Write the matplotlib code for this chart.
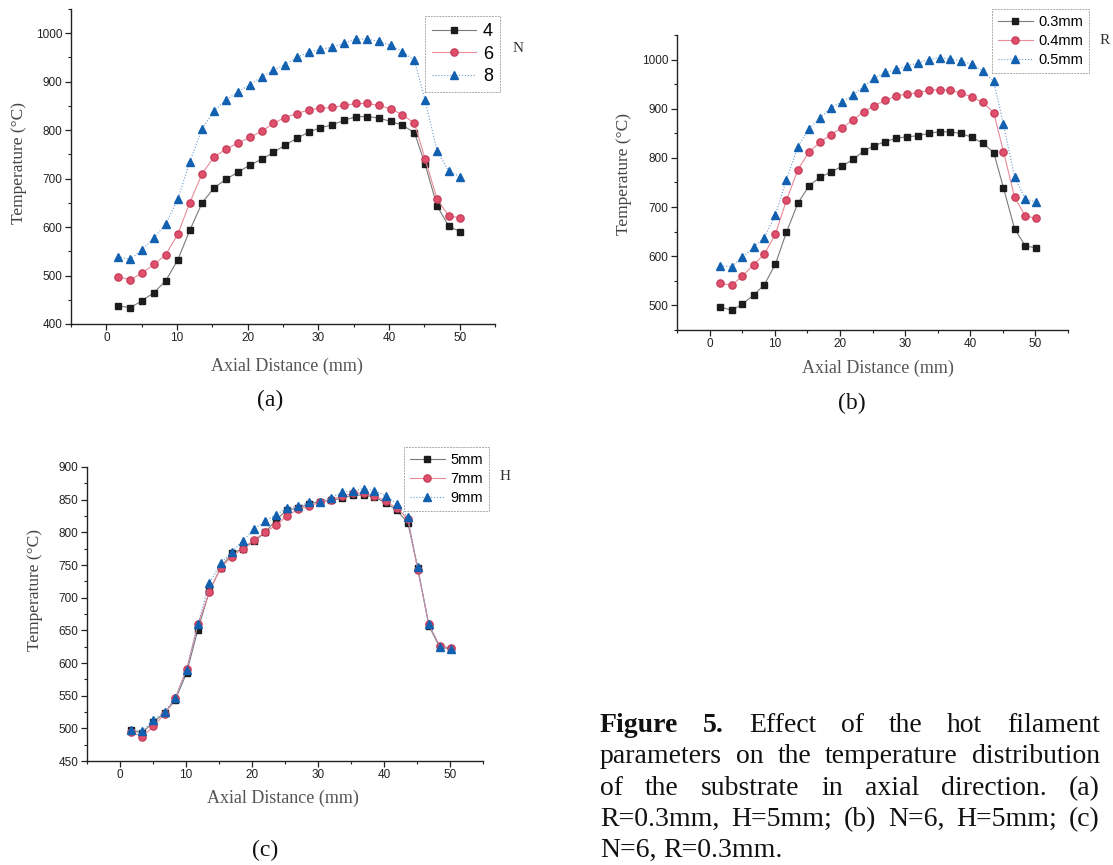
import numpy as np
import matplotlib
matplotlib.use('Agg')
import matplotlib.pyplot as plt
from matplotlib.ticker import MultipleLocator

# axial positions (mm), shared by all panels
x_pos = [1.65, 3.4, 5.05, 6.75, 8.4, 10.1, 11.8, 13.55, 15.25, 16.95,
         18.6, 20.3, 22.0, 23.65, 25.25, 26.95, 28.65, 30.3, 31.95, 33.6,
         35.3, 36.9, 38.55, 40.25, 41.9, 43.6, 45.1, 46.8, 48.45, 50.1]

# (a) filament number N
labels_a = ['4', '6', '8']
temp_n4 = [437, 434, 448, 465, 489, 532, 593, 650, 681, 699,
           713, 728, 740, 754, 769, 783, 796, 805, 811, 820,
           828, 828, 825, 818, 810, 795, 730, 644, 602, 590]
temp_n6 = [498, 491, 505, 523, 543, 585, 650, 710, 745, 761,
           773, 785, 798, 814, 826, 834, 842, 845, 847, 851,
           855, 855, 851, 844, 832, 814, 741, 658, 623, 619]
temp_n8 = [538, 534, 553, 578, 606, 657, 734, 803, 840, 862,
           879, 894, 910, 924, 935, 950, 961, 967, 971, 979,
           988, 988, 983, 975, 962, 944, 862, 758, 715, 704]

# (b) filament radius R
labels_b = ['0.3mm', '0.4mm', '0.5mm']
temp_r03 = [497, 490, 503, 521, 542, 584, 649, 708, 743, 761,
            771, 783, 797, 814, 825, 833, 840, 843, 845, 850,
            853, 853, 850, 842, 830, 811, 739, 656, 621, 617]
temp_r04 = [545, 541, 560, 583, 604, 645, 714, 776, 812, 832,
            847, 861, 877, 894, 906, 917, 926, 930, 932, 938,
            939, 938, 932, 924, 913, 892, 813, 720, 682, 677]
temp_r05 = [581, 579, 598, 618, 638, 684, 756, 823, 859, 881,
            902, 914, 928, 945, 962, 974, 980, 987, 993, 1000,
            1004, 1001, 998, 990, 977, 956, 868, 761, 717, 710]

# (c) filament-substrate distance H
labels_c = ['5mm', '7mm', '9mm']
temp_h5 = [497, 493, 510, 523, 544, 585, 651, 710, 746, 768,
           775, 786, 800, 819, 834, 837, 844, 847, 849, 852,
           857, 857, 854, 845, 834, 815, 746, 657, 624, 622]
temp_h7 = [495, 487, 503, 522, 547, 591, 659, 709, 746, 763,
           775, 789, 800, 811, 825, 835, 840, 846, 850, 855,
           860, 860, 856, 848, 837, 821, 743, 659, 626, 623]
temp_h9 = [498, 496, 513, 525, 547, 589, 659, 722, 753, 770,
           787, 805, 817, 827, 837, 840, 846, 847, 853, 861,
           864, 867, 864, 856, 844, 823, 747, 659, 625, 622]

caption = ("Figure 5. Effect of the hot filament parameters on the temperature "
           "distribution of the substrate in axial direction. (a) R=0.3mm, H=5mm; "
           "(b) N=6, H=5mm; (c) N=6, R=0.3mm.")

W, H = 1113, 865
fig = plt.figure(figsize=(W / 100, H / 100), dpi=100)
plt.rcParams['font.family'] = 'Liberation Sans'

styles = [dict(marker='s', color='#7a7a7a', mfc='#1c1c1c', mec='#1c1c1c', ms=4.6, ls='-'),
          dict(marker='o', color='#e88a9a', mfc='#e0506c', mec='#c8405c', ms=5.2, ls='-'),
          dict(marker='^', color='#6a9ad0', mfc='#1260b0', mec='#1260b0', ms=6.2, ls=':')]


def px(x, y):
    return x / W, 1 - y / H


def panel(rect, series, labels, ylim, ymaj, ymin, leg_px, leg_fs, leg_sp,
          par, par_px, ylab_px, xlab_px, tag, tag_px):
    ax = fig.add_axes(rect)
    for s, lab, st in zip(series, labels, styles):
        ax.plot(x_pos, s, lw=0.8, label=lab, **st)
    ax.set_xlim(-5, 55)
    ax.set_ylim(*ylim)
    ax.xaxis.set_major_locator(MultipleLocator(10))
    ax.xaxis.set_minor_locator(MultipleLocator(5))
    ax.yaxis.set_major_locator(MultipleLocator(ymaj))
    ax.yaxis.set_minor_locator(MultipleLocator(ymin))
    ax.spines['top'].set_visible(False)
    ax.spines['right'].set_visible(False)
    for sp in ('left', 'bottom'):
        ax.spines[sp].set_linewidth(1.0)
        ax.spines[sp].set_color('#222222')
    ax.tick_params(which='major', direction='out', length=4, width=0.9,
                   labelsize=8.5, colors='#222222', pad=2)
    ax.tick_params(which='minor', direction='out', length=2.5, width=0.8,
                   colors='#222222')
    leg = ax.legend(loc='upper left', bbox_to_anchor=px(*leg_px),
                    bbox_transform=fig.transFigure, fontsize=leg_fs,
                    handlelength=2.4, labelspacing=leg_sp, borderpad=0.4,
                    borderaxespad=0, handletextpad=0.4, fancybox=False,
                    framealpha=1)
    leg.get_frame().set_edgecolor('#aaaaaa')
    leg.get_frame().set_linewidth(0.7)
    leg.get_frame().set_linestyle((0, (2, 1)))
    fig.text(*px(*par_px), par, family='Liberation Serif', fontsize=11,
             ha='center', va='center', color='#333333')
    fig.text(*px(*ylab_px), 'Temperature (°C)', family='Liberation Serif',
             fontsize=12.5, rotation=90, ha='center', va='center', color='#444444')
    fig.text(*px(*xlab_px), 'Axial Distance (mm)', family='Liberation Serif',
             fontsize=13, ha='center', va='center', color='#555555')
    fig.text(*px(*tag_px), tag, family='Liberation Serif', fontsize=17,
             ha='center', va='center', color='#111111')
    return ax


panel([71 / W, 1 - 324 / H, 424 / W, 315 / H], [temp_n4, temp_n6, temp_n8],
      labels_a, (400, 1050), 100, 50, (425, 16), 13, 0.3, 'N', (518, 48),
      (19, 163), (287, 366), '(a)', (270, 400))
panel([677 / W, 1 - 330 / H, 391 / W, 295 / H], [temp_r03, temp_r04, temp_r05],
      labels_b, (450, 1050), 100, 50, (992, 9), 10.5, 0.35, 'R', (1105, 41),
      (624, 174), (878, 368), '(b)', (852, 403))
panel([87 / W, 1 - 761 / H, 396 / W, 294 / H], [temp_h5, temp_h7, temp_h9],
      labels_c, (450, 900), 50, 25, (404, 447), 10.5, 0.35, 'H', (505, 477),
      (35, 590), (283, 798), '(c)', (265, 850))

# justified caption block
fig.canvas.draw()
r = fig.canvas.get_renderer()
words = caption.split(' ')
x0, x1 = 600, 1100
base_y = [732, 763, 795, 826, 857]
fs = 20


def make(wd, bold):
    return fig.text(0, 0, wd, family='Liberation Serif', fontsize=fs,
                    fontweight='bold' if bold else 'normal', va='baseline',
                    color='#111111')


lines, cur, curw = [], [], 0
space = make(' x', False).get_window_extent(r).width - make('x', False).get_window_extent(r).width
for t in list(fig.texts[-2:]):
    t.remove()
for i, wd in enumerate(words):
    t = make(wd, i < 2)
    w = t.get_window_extent(r).width
    need = curw + (space if cur else 0) + w
    if cur and need > (x1 - x0):
        lines.append(cur)
        cur, curw = [], 0
        need = w
    cur.append((t, w))
    curw = need
lines.append(cur)

for li, ln in enumerate(lines):
    total = sum(w for _, w in ln)
    last = li == len(lines) - 1
    gap = space if (last or len(ln) < 2) else (x1 - x0 - total) / (len(ln) - 1)
    xx = x0
    for t, w in ln:
        t.set_position(px(xx, base_y[min(li, len(base_y) - 1)]))
        xx += w + gap

fig.savefig('out.png', dpi=100)
